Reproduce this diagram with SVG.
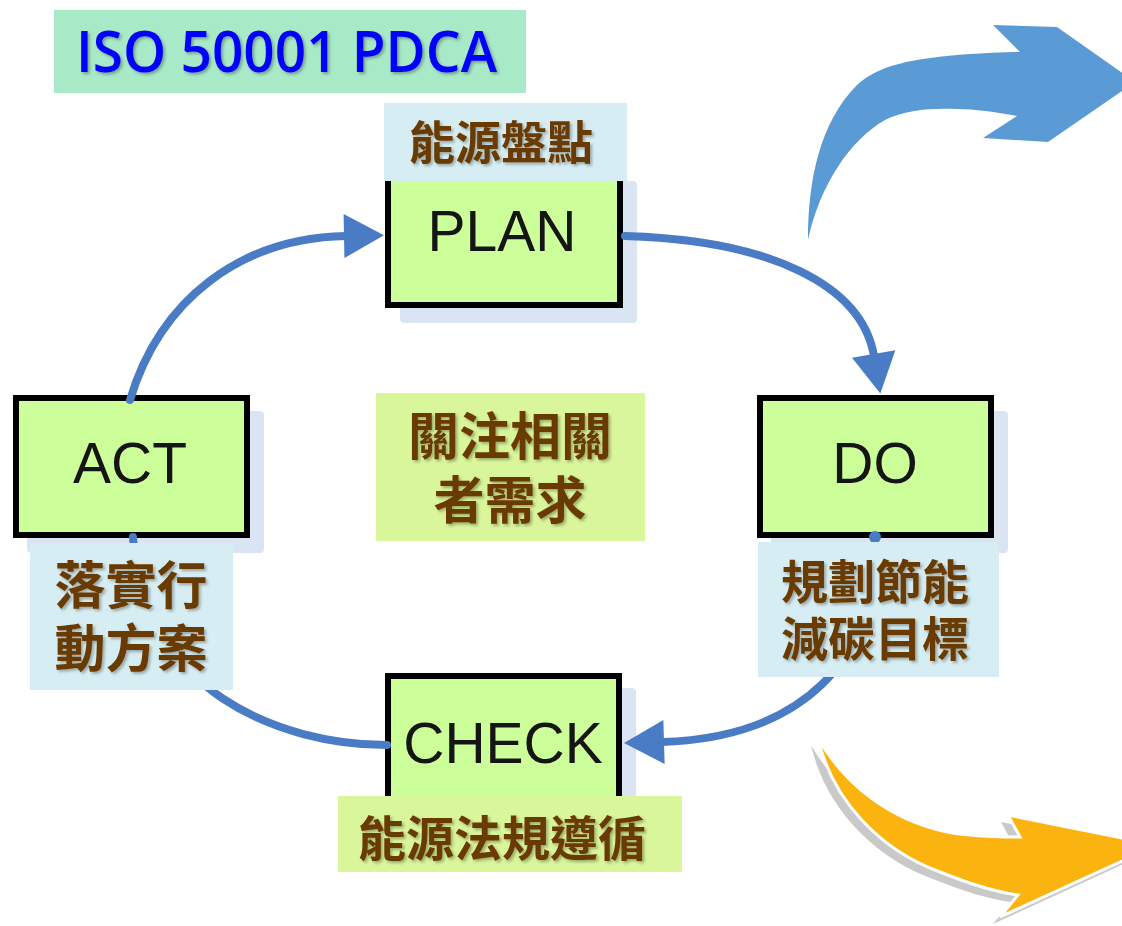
<svg xmlns="http://www.w3.org/2000/svg" width="1122" height="926" viewBox="0 0 1122 926">
<defs>
<style>
.shadow{fill:#dbe4f3}
.box{fill:#ccff99;stroke:#000;stroke-width:6}
.blabel{font-family:"Liberation Sans",Arial,sans-serif;font-size:57px;fill:#151515;text-anchor:middle}
.cj{font-family:"Noto Sans CJK TC","Noto Sans CJK SC",sans-serif;font-weight:bold;fill:#6b3a06;text-anchor:middle;filter:url(#ts)}
.lb{fill:#d6eef3}
.ly{fill:#daf69b}
.conn{fill:none;stroke:#4a7cc5;stroke-width:8;stroke-linecap:round}
</style>
<filter id="ts" x="-10%" y="-10%" width="130%" height="140%">
<feDropShadow dx="2" dy="2" stdDeviation="1.5" flood-color="#000" flood-opacity="0.3"/>
</filter>
<marker id="ah" markerUnits="userSpaceOnUse" markerWidth="44" markerHeight="46" refX="2" refY="22" orient="auto" overflow="visible">
<polygon points="0,0 40,22 0,44" fill="#4a7cc5"/>
</marker>
</defs>

<g id="title">
<rect x="54" y="10" width="472" height="83" fill="#a8e9c8"/>
<text x="76" y="72" font-family="'Open Sans','Noto Sans',sans-serif" font-weight="600" font-size="57" fill="#0000ff" textLength="421" lengthAdjust="spacingAndGlyphs" filter="url(#ts)">ISO 50001 PDCA</text>
</g>

<g id="blue-arrow">
<path d="M808,240 C808,180 820,122 857,85 C880,64 915,59 957,55 C985,53 1005,52 1020,52 L993,25 L1057,27 L1135,82 L1048,142 L983,138 L1017,116 C995,112 975,109 957,109 C930,108 905,110 885,120 C850,140 820,185 808,240 Z" fill="#5b9bd5"/>
</g>

<g id="orange-arrow">
<path transform="translate(-7,7)" d="M818,738 C845,785 890,820 947,832 C975,837 1000,837 1020,837 L1008,815 L1157,845 L1000,917 L1018,895 C995,892 970,884 940,872 C880,850 832,800 818,738 Z" fill="#c9c9c9"/>
<path d="M818,738 C845,785 890,820 947,832 C975,837 1000,837 1020,837 L1008,815 L1157,845 L1000,917 L1018,895 C995,892 970,884 940,872 C880,850 832,800 818,738 Z" fill="#fbb40f" stroke="#fff" stroke-width="3"/>
</g>

<g id="plan">
<rect class="shadow" x="400" y="181" width="237" height="142" rx="4"/>
<rect class="box" x="388" y="168" width="232" height="137"/>
<text class="blabel" x="502" y="251">PLAN</text>
</g>
<g id="do">
<rect class="shadow" x="771" y="411" width="237" height="142" rx="4"/>
<rect class="box" x="760" y="398" width="231" height="137"/>
<text class="blabel" x="875" y="483">DO</text>
</g>
<g id="act">
<rect class="shadow" x="27" y="411" width="237" height="142" rx="4"/>
<rect class="box" x="16" y="398" width="231" height="137"/>
<text class="blabel" x="130" y="483">ACT</text>
</g>
<g id="check">
<rect class="shadow" x="399" y="688" width="237" height="142" rx="4"/>
<rect class="box" x="388" y="676" width="231" height="137"/>
<text class="blabel" x="503" y="763">CHECK</text>
</g>

<g id="connectors">
<path class="conn" d="M130,400 C160,300 240,238 346,236" marker-end="url(#ah)"/>
<path class="conn" d="M625,236 C770,240 862,285 874,356" marker-end="url(#ah)"/>
<path class="conn" d="M875,537 C880,660 800,738 662,742" marker-end="url(#ah)"/>
<circle cx="875" cy="537" r="6" fill="#4a7cc5"/>
<path class="conn" d="M387,745 C280,745 140,690 133,537"/>
</g>

<g id="label-plan">
<rect class="lb" x="384" y="103" width="243" height="78"/>
<text class="cj" x="501" y="159" font-size="46">能源盤點</text>
</g>
<g id="label-act">
<rect class="lb" x="30" y="543" width="203" height="147"/>
<text class="cj" font-size="51"><tspan x="131" y="604">落實行</tspan><tspan x="131" y="667">動方案</tspan></text>
</g>
<g id="label-do">
<rect class="lb" x="758" y="542" width="241" height="135"/>
<text class="cj" font-size="47"><tspan x="875" y="599">規劃節能</tspan><tspan x="875" y="656">減碳目標</tspan></text>
</g>
<g id="label-center">
<rect class="ly" x="376" y="393" width="269" height="148"/>
<text class="cj" font-size="51"><tspan x="510" y="455">關注相關</tspan><tspan x="510" y="519">者需求</tspan></text>
</g>
<g id="label-check">
<rect class="ly" x="338" y="796" width="344" height="76"/>
<text class="cj" x="502" y="856" font-size="48">能源法規遵循</text>
</g>
</svg>
